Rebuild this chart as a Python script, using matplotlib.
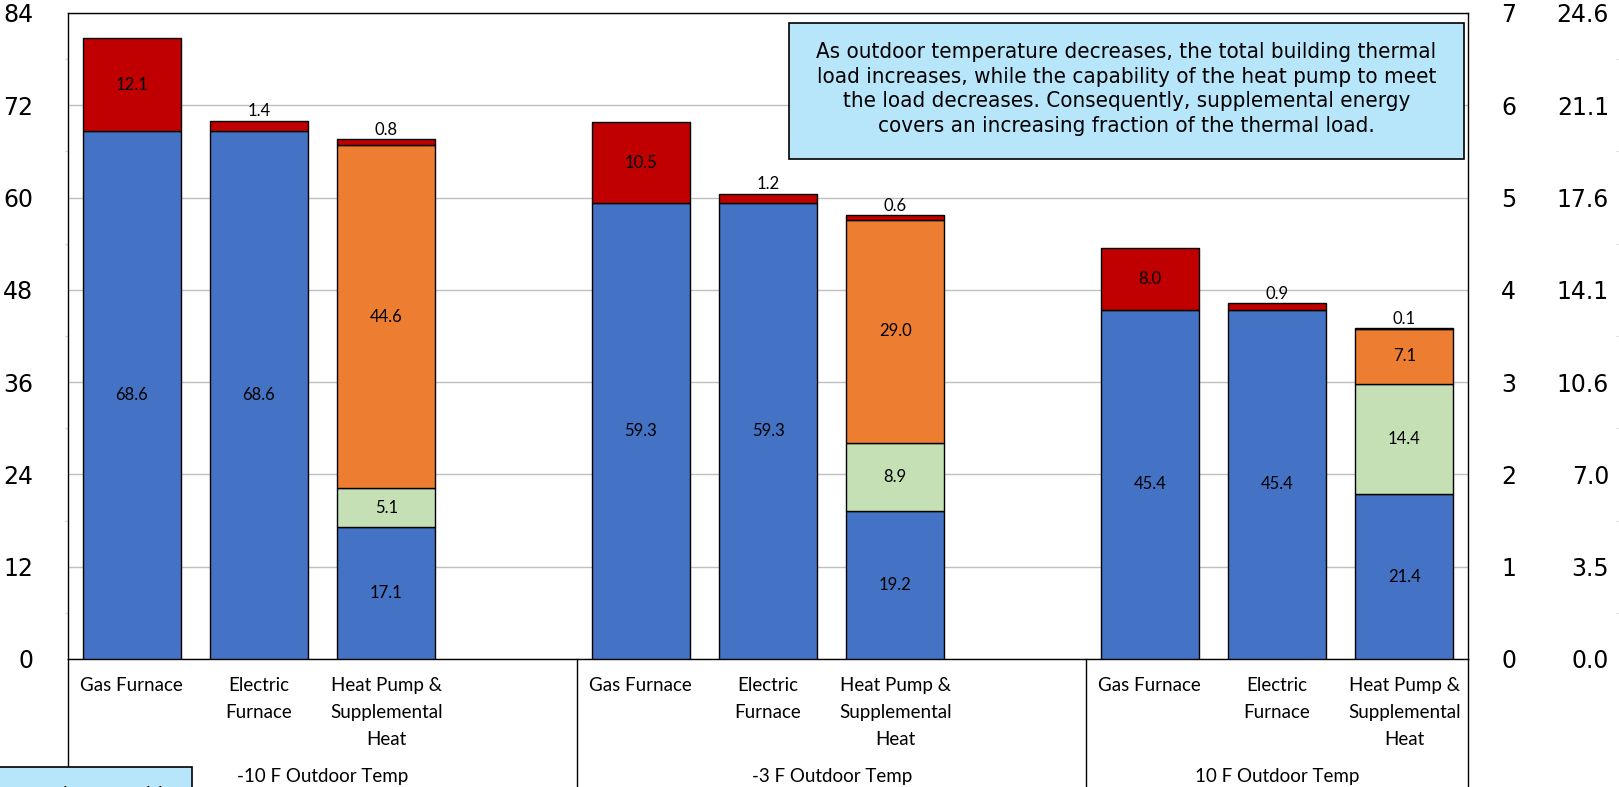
import matplotlib
matplotlib.use('Agg')
import matplotlib.pyplot as plt
import numpy as np
from matplotlib.patches import Rectangle

# Heating load by system type at three outdoor temperatures (kBtu/h)
groups = ['-10 F Outdoor Temp', '-3 F Outdoor Temp', '10 F Outdoor Temp']
systems = ['Gas Furnace', 'Electric\nFurnace', 'Heat Pump &\nSupplemental\nHeat']

base_load = [68.6, 68.6, 17.1, 59.3, 59.3, 19.2, 45.4, 45.4, 21.4]
hp_boost = [0, 0, 5.1, 0, 0, 8.9, 0, 0, 14.4]
supplemental = [0, 0, 44.6, 0, 0, 29.0, 0, 0, 7.1]
losses = [12.1, 1.4, 0.8, 10.5, 1.2, 0.6, 8.0, 0.9, 0.1]

left_ticks = list(range(0, 85, 12))
ton_ticks = list(range(0, 8))
KBTU_PER_TON = 12.0
KBTU_PER_KW = 3.412

note = ('As outdoor temperature decreases, the total building thermal\n'
        'load increases, while the capability of the heat pump to meet\n'
        'the load decreases. Consequently, supplemental energy\n'
        'covers an increasing fraction of the thermal load.')

colors = ['#4472C4', '#C5E0B4', '#ED7D31', '#C00000']
label_font = ['Lato', 'DejaVu Sans']

fig = plt.figure(figsize=(16.19, 7.87), dpi=100)
ax = fig.add_axes([68 / 1619, 1 - 659 / 787, 1400 / 1619, 646 / 787])

# 3 bars per group, one empty slot between groups
xpos = np.array([g * 4 + i for g in range(3) for i in range(3)])
bottom = np.zeros(len(xpos))
for vals, col in zip([base_load, hp_boost, supplemental, losses], colors):
    vals = np.array(vals, dtype=float)
    m = vals > 0
    ax.bar(xpos[m], vals[m], 0.77, bottom=bottom[m], color=col,
           edgecolor='black', linewidth=1, zorder=3)
    for x, v, b in zip(xpos[m], vals[m], bottom[m]):
        if v >= 3:
            ax.text(x, b + v / 2, f'{v:.1f}', ha='center', va='center',
                    fontsize=12, family=label_font, zorder=4)
        else:
            ax.annotate(f'{v:.1f}', (x, b + v), xytext=(0, 1),
                        textcoords='offset points', ha='center', va='bottom',
                        fontsize=12, family=label_font, zorder=4)
    bottom += vals

ax.set_xlim(-0.5, 10.5)
ax.set_ylim(0, 84)
ax.set_yticks(left_ticks)
ax.set_yticks(range(6, 84, 12), minor=True)
ax.yaxis.grid(True, color='#BFBFBF', linewidth=1)
ax.set_axisbelow(True)
ax.tick_params(axis='y', which='major', length=0, pad=25, labelsize=17)
ax.tick_params(axis='y', which='minor', length=2, color='#D9D9D9', width=1)
for s in ax.spines.values():
    s.set_color('black')
    s.set_linewidth(1)

ax.set_xticks(xpos)
ax.set_xticklabels(systems * 3, fontsize=13.5, family=label_font)
ax.tick_params(axis='x', length=0, pad=13)
for lbl in ax.get_xticklabels():
    lbl.set_linespacing(1.7)

# group labels and separators under the category axis
xt = ax.get_xaxis_transform()
edges = [-0.5, 3.5, 7.5, 10.5]
for g, name in enumerate(groups):
    ax.text((edges[g] + edges[g + 1]) / 2, -0.182, name, transform=xt,
            ha='center', va='center', fontsize=13.5, family=label_font)
for x in edges:
    ax.plot([x, x], [0, -0.3], transform=xt, color='black', lw=1, clip_on=False)

# secondary scales: tons and kW
tons = ax.secondary_yaxis(1.0, functions=(lambda v: v / KBTU_PER_TON,
                                          lambda v: v * KBTU_PER_TON))
tons.set_yticks(ton_ticks)
tons.tick_params(length=0, pad=24, labelsize=17)
tons.spines['right'].set_visible(False)

kw = ax.secondary_yaxis(1.1057, functions=(lambda v: v / KBTU_PER_KW,
                                           lambda v: v * KBTU_PER_KW))
kw.set_alignment('left')
kw_max = 84 / KBTU_PER_KW
kw.set_yticks(np.linspace(0, kw_max, 8))
kw.set_yticks(np.linspace(0, kw_max, 15), minor=True)
kw.yaxis.set_major_formatter('{x:.1f}')
kw.tick_params(which='major', length=0, pad=5, labelsize=17)
kw.tick_params(which='minor', length=2, color='#D9D9D9', direction='in')
kw.spines['left'].set_visible(False)

# explanatory note
fig.add_artist(Rectangle((789 / 1619, 1 - 159 / 787), 675 / 1619, 136 / 787,
                         transform=fig.transFigure, facecolor='#B7E6FA',
                         edgecolor='black', linewidth=1.2, zorder=5))
fig.text(1126.5 / 1619, 1 - 89 / 787, note, ha='center', va='center',
         multialignment='center', fontsize=16, linespacing=1.28,
         family=['DejaVu Sans'], stretch='condensed', zorder=6)

# second note box running off the bottom edge
box2 = Rectangle((-0.01, -0.05), 0.01 + 192 / 1619, 0.05 + 20 / 787,
                 transform=fig.transFigure, facecolor='#B7E6FA',
                 edgecolor='black', linewidth=1.2, zorder=5)
fig.add_artist(box2)
t2 = fig.text(14 / 1619, 1 / 787, 'supplemental heat required', ha='left',
              va='top', fontsize=16, family=['DejaVu Sans'],
              stretch='condensed', zorder=6)
t2.set_clip_path(box2)

fig.savefig('out.png', dpi=100)
